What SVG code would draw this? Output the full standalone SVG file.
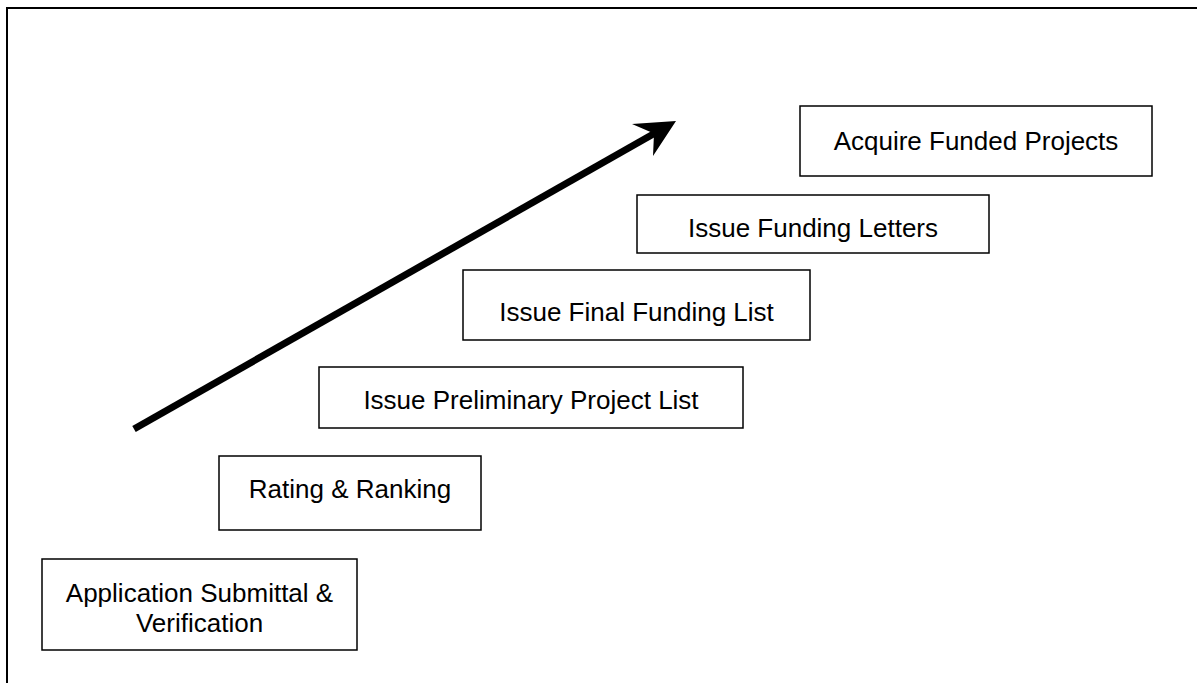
<svg xmlns="http://www.w3.org/2000/svg" width="1197" height="683" viewBox="0 0 1197 683">
<style>
.box{fill:#fff;stroke:#000;stroke-width:1.5}
.lbl{font-family:"Liberation Sans",Arial,sans-serif;font-size:26px;fill:#000;text-anchor:middle}
</style>
<rect x="0" y="0" width="1197" height="683" fill="#fff"/>
<path d="M7,683 V8 H1197" fill="none" stroke="#000" stroke-width="2"/>
<g id="connectors">
<line x1="134" y1="429" x2="656" y2="132.5" stroke="#000" stroke-width="7"/>
<polygon points="676,121 632,124 654,133.5 653,156" fill="#000"/>
</g>
<g id="n1"><rect class="box" x="42" y="559" width="315" height="91"/>
<text class="lbl" x="199.5" y="602">Application Submittal &amp;</text>
<text class="lbl" x="199.5" y="632">Verification</text></g>
<g id="n2"><rect class="box" x="219" y="456" width="262" height="74"/>
<text class="lbl" x="350" y="498">Rating &amp; Ranking</text></g>
<g id="n3"><rect class="box" x="319" y="367" width="424" height="61"/>
<text class="lbl" x="531" y="409">Issue Preliminary Project List</text></g>
<g id="n4"><rect class="box" x="463" y="270" width="347" height="70"/>
<text class="lbl" x="636.5" y="321">Issue Final Funding List</text></g>
<g id="n5"><rect class="box" x="637" y="195" width="352" height="58"/>
<text class="lbl" x="813" y="236.5">Issue Funding Letters</text></g>
<g id="n6"><rect class="box" x="800" y="106" width="352" height="70"/>
<text class="lbl" x="976" y="150">Acquire Funded Projects</text></g>
</svg>
